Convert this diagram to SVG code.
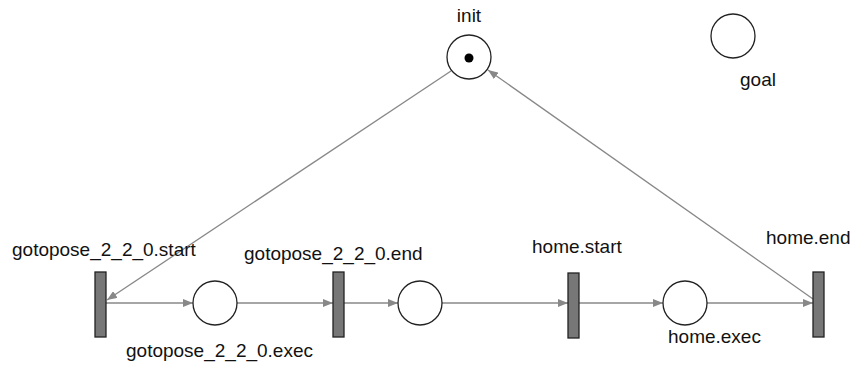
<svg xmlns="http://www.w3.org/2000/svg" width="856" height="365" viewBox="0 0 856 365">
<style>
.place{fill:#fff;stroke:#222;stroke-width:1.3}
.trans{fill:#777;stroke:#222;stroke-width:1.3}
.arc{stroke:#888;stroke-width:1.3;fill:none;marker-end:url(#ah)}
text{font-family:"Liberation Sans",Arial,sans-serif;font-size:19px;fill:#111}
</style>
<defs>
<marker id="ah" viewBox="0 0 10 8" refX="10" refY="4" markerWidth="10" markerHeight="8" markerUnits="userSpaceOnUse" orient="auto">
<path d="M0,0 L10,4 L0,8 z" fill="#888"/>
</marker>
</defs>
<rect width="856" height="365" fill="#fff"/>
<g id="connectors">
<line class="arc" x1="451" y1="71" x2="107" y2="300"/>
<line class="arc" x1="813" y1="299" x2="488" y2="70"/>
<line class="arc" x1="106" y1="303" x2="193" y2="303"/>
<line class="arc" x1="237" y1="303" x2="333" y2="303"/>
<line class="arc" x1="343" y1="303" x2="398" y2="303"/>
<line class="arc" x1="442" y1="303" x2="568" y2="303"/>
<line class="arc" x1="578" y1="303" x2="663" y2="303"/>
<line class="arc" x1="707" y1="303" x2="813" y2="303"/>
</g>
<g id="init">
<circle class="place" cx="469" cy="57" r="22"/>
<circle cx="469" cy="58" r="4.5" fill="#000"/>
<text x="469" y="22" text-anchor="middle">init</text>
</g>
<g id="goal">
<circle class="place" cx="733" cy="36" r="22"/>
<text x="758" y="86" text-anchor="middle">goal</text>
</g>
<g id="gotopose_start">
<rect class="trans" x="95" y="272" width="11" height="65"/>
<text x="12" y="256">gotopose_2_2_0.start</text>
</g>
<g id="gotopose_exec">
<circle class="place" cx="215" cy="303" r="22"/>
<text x="126" y="357">gotopose_2_2_0.exec</text>
</g>
<g id="gotopose_end">
<rect class="trans" x="333" y="272" width="11" height="65"/>
<text x="244" y="260">gotopose_2_2_0.end</text>
</g>
<g id="mid_place">
<circle class="place" cx="420" cy="303" r="22"/>
</g>
<g id="home_start">
<rect class="trans" x="568" y="273" width="11" height="65"/>
<text x="532" y="253">home.start</text>
</g>
<g id="home_exec">
<circle class="place" cx="685" cy="303" r="22"/>
<text x="668" y="343">home.exec</text>
</g>
<g id="home_end">
<rect class="trans" x="813" y="272" width="11" height="65"/>
<text x="766" y="244">home.end</text>
</g>
</svg>
